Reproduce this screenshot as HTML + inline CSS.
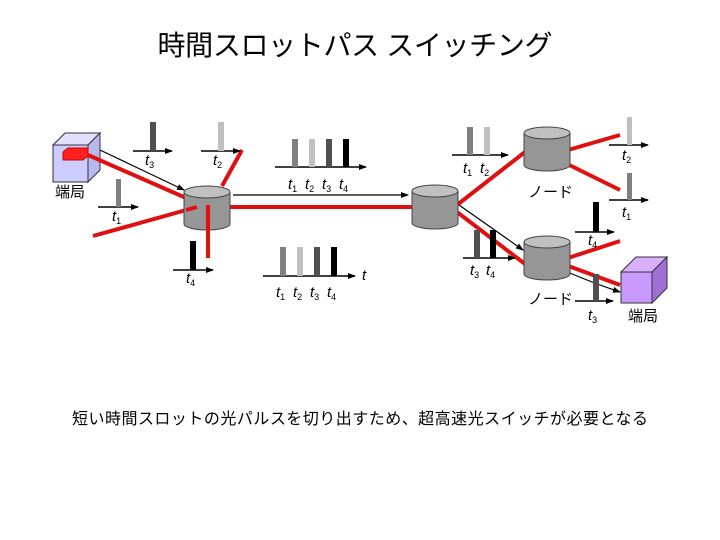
<!DOCTYPE html>
<html><head><meta charset="utf-8"><style>
html,body{margin:0;padding:0;background:#fff;width:720px;height:540px;overflow:hidden}
svg{display:block}
text{font-family:"Liberation Sans","Noto Sans CJK JP",sans-serif}
.t{font-family:"Liberation Serif","Noto Sans CJK JP",serif;font-style:italic;font-size:15px}
.s{font-size:9px;font-style:normal}
</style></head><body>
<svg width="720" height="540" viewBox="0 0 720 540" xmlns="http://www.w3.org/2000/svg">
<defs>
<marker id="a" markerWidth="8" markerHeight="8" refX="7" refY="4" orient="auto" markerUnits="userSpaceOnUse"><path d="M0,1 L8,4 L0,7z" fill="#000"/></marker>
<g id="cyl">
<path d="M0,6 L0,38 A23,6 0 0 0 46,38 L46,6" fill="#969696" stroke="#444" stroke-width="1"/>
<ellipse cx="23" cy="6" rx="23" ry="6" fill="#c0c0c0" stroke="#444" stroke-width="1"/>
</g>
</defs>
<text x="355" y="55" font-size="28" text-anchor="middle" textLength="395">時間スロットパス スイッチング</text>

<!-- left terminal cube -->
<polygon points="53,145 65,133 100,133 88,145" fill="#e0e0ff" stroke="#333"/>
<polygon points="88,145 100,133 100,170 88,182" fill="#b8b8ee" stroke="#333"/>
<rect x="53" y="145" width="35" height="37" fill="#ccccff" stroke="#333"/>
<polygon points="63,152 68,148 88,148 88,156 83,160 63,160" fill="#ff2020" stroke="#c00"/>
<text x="55" y="197" font-size="15">端局</text>

<!-- right terminal cube -->
<polygon points="621,272 636,257 667,257 652,272" fill="#d8b0ff" stroke="#333"/>
<polygon points="652,272 667,257 667,288 652,303" fill="#a070d8" stroke="#333"/>
<rect x="621" y="272" width="31" height="31" fill="#c89aff" stroke="#333"/>
<text x="628" y="321" font-size="15">端局</text>

<!-- black arrows -->
<g stroke="#000" stroke-width="1.2" fill="none" marker-end="url(#a)">
<line x1="100" y1="150" x2="184" y2="190"/>
<line x1="233" y1="195" x2="408" y2="195"/>
<line x1="459" y1="205" x2="523" y2="250"/>
<path d="M563,270 Q590,282 620,292"/>
</g>

<!-- red lines -->
<g stroke="#e01010" stroke-width="4" stroke-linecap="butt">
<line x1="88" y1="155" x2="186" y2="198"/>
<line x1="93" y1="236" x2="197" y2="207"/>
<line x1="222" y1="186" x2="242" y2="150"/>
<line x1="230" y1="207" x2="412" y2="207"/>
<line x1="457" y1="205" x2="525" y2="152"/>
<line x1="457" y1="212" x2="525" y2="264"/>
<line x1="568" y1="150" x2="620" y2="135"/>
<line x1="553" y1="157" x2="620" y2="190"/>
<line x1="568" y1="258" x2="620" y2="241"/>
<line x1="563" y1="264" x2="620" y2="285"/>
</g>

<use href="#cyl" x="184" y="186"/>
<use href="#cyl" x="412" y="185"/>
<use href="#cyl" x="524" y="127"/>
<use href="#cyl" x="524" y="236"/>
<line x1="208" y1="205" x2="208" y2="258" stroke="#e01010" stroke-width="4"/>
<line x1="197" y1="207" x2="186" y2="210" stroke="#e01010" stroke-width="4"/>

<text x="528" y="197" font-size="15">ノード</text>
<text x="528" y="304" font-size="15">ノード</text>

<!-- axes -->
<g stroke="#000" stroke-width="1.5" marker-end="url(#a)">
<line x1="133" y1="151" x2="172" y2="151"/>
<line x1="201" y1="151" x2="240" y2="151"/>
<line x1="98" y1="207" x2="138" y2="207"/>
<line x1="173" y1="270" x2="213" y2="270"/>
<line x1="275" y1="167" x2="366" y2="167"/>
<line x1="263" y1="276" x2="355" y2="276"/>
<line x1="452" y1="155" x2="508" y2="155"/>
<line x1="463" y1="258" x2="515" y2="258"/>
<line x1="609" y1="145" x2="648" y2="145"/>
<line x1="609" y1="200" x2="648" y2="200"/>
<line x1="575" y1="232" x2="614" y2="232"/>
<line x1="575" y1="301" x2="613" y2="301"/>
</g>
<!-- bars -->
<rect x="150" y="122" width="6" height="29" fill="#505050"/>
<rect x="218" y="122" width="6" height="29" fill="#c0c0c0"/>
<rect x="116" y="179" width="5" height="28" fill="#808080"/>
<rect x="190" y="241" width="6" height="29" fill="#000"/>
<rect x="292" y="139" width="6" height="28" fill="#808080"/>
<rect x="309" y="139" width="6" height="28" fill="#c0c0c0"/>
<rect x="326" y="139" width="6" height="28" fill="#505050"/>
<rect x="343" y="139" width="6" height="28" fill="#000"/>
<rect x="280" y="247" width="6" height="29" fill="#808080"/>
<rect x="297" y="247" width="6" height="29" fill="#c0c0c0"/>
<rect x="314" y="247" width="6" height="29" fill="#505050"/>
<rect x="331" y="247" width="6" height="29" fill="#000"/>
<rect x="467" y="127" width="6" height="28" fill="#808080"/>
<rect x="484" y="127" width="6" height="28" fill="#c0c0c0"/>
<rect x="474" y="230" width="6" height="28" fill="#505050"/>
<rect x="490" y="230" width="6" height="28" fill="#000"/>
<rect x="627" y="117" width="5" height="28" fill="#c0c0c0"/>
<rect x="627" y="173" width="5" height="27" fill="#808080"/>
<rect x="593" y="202" width="6" height="30" fill="#000"/>
<rect x="593" y="274" width="6" height="27" fill="#505050"/>

<!-- labels -->
<g class="t">
<text x="145" y="165">t<tspan class="s" dy="3">3</tspan></text>
<text x="213" y="165">t<tspan class="s" dy="3">2</tspan></text>
<text x="112" y="221">t<tspan class="s" dy="3">1</tspan></text>
<text x="186" y="283">t<tspan class="s" dy="3">4</tspan></text>
<text x="288" y="189">t<tspan class="s" dy="3">1</tspan></text>
<text x="305" y="189">t<tspan class="s" dy="3">2</tspan></text>
<text x="322" y="189">t<tspan class="s" dy="3">3</tspan></text>
<text x="339" y="189">t<tspan class="s" dy="3">4</tspan></text>
<text x="276" y="297">t<tspan class="s" dy="3">1</tspan></text>
<text x="293" y="297">t<tspan class="s" dy="3">2</tspan></text>
<text x="310" y="297">t<tspan class="s" dy="3">3</tspan></text>
<text x="327" y="297">t<tspan class="s" dy="3">4</tspan></text>
<text x="362" y="280">t</text>
<text x="463" y="173">t<tspan class="s" dy="3">1</tspan></text>
<text x="480" y="173">t<tspan class="s" dy="3">2</tspan></text>
<text x="470" y="275">t<tspan class="s" dy="3">3</tspan></text>
<text x="486" y="275">t<tspan class="s" dy="3">4</tspan></text>
<text x="622" y="160">t<tspan class="s" dy="3">2</tspan></text>
<text x="622" y="217">t<tspan class="s" dy="3">1</tspan></text>
<text x="588" y="245">t<tspan class="s" dy="3">4</tspan></text>
<text x="588" y="320">t<tspan class="s" dy="3">3</tspan></text>
</g>

<text x="360" y="424" font-size="16" text-anchor="middle" textLength="576">短い時間スロットの光パルスを切り出すため、超高速光スイッチが必要となる</text>
</svg>
</body></html>
